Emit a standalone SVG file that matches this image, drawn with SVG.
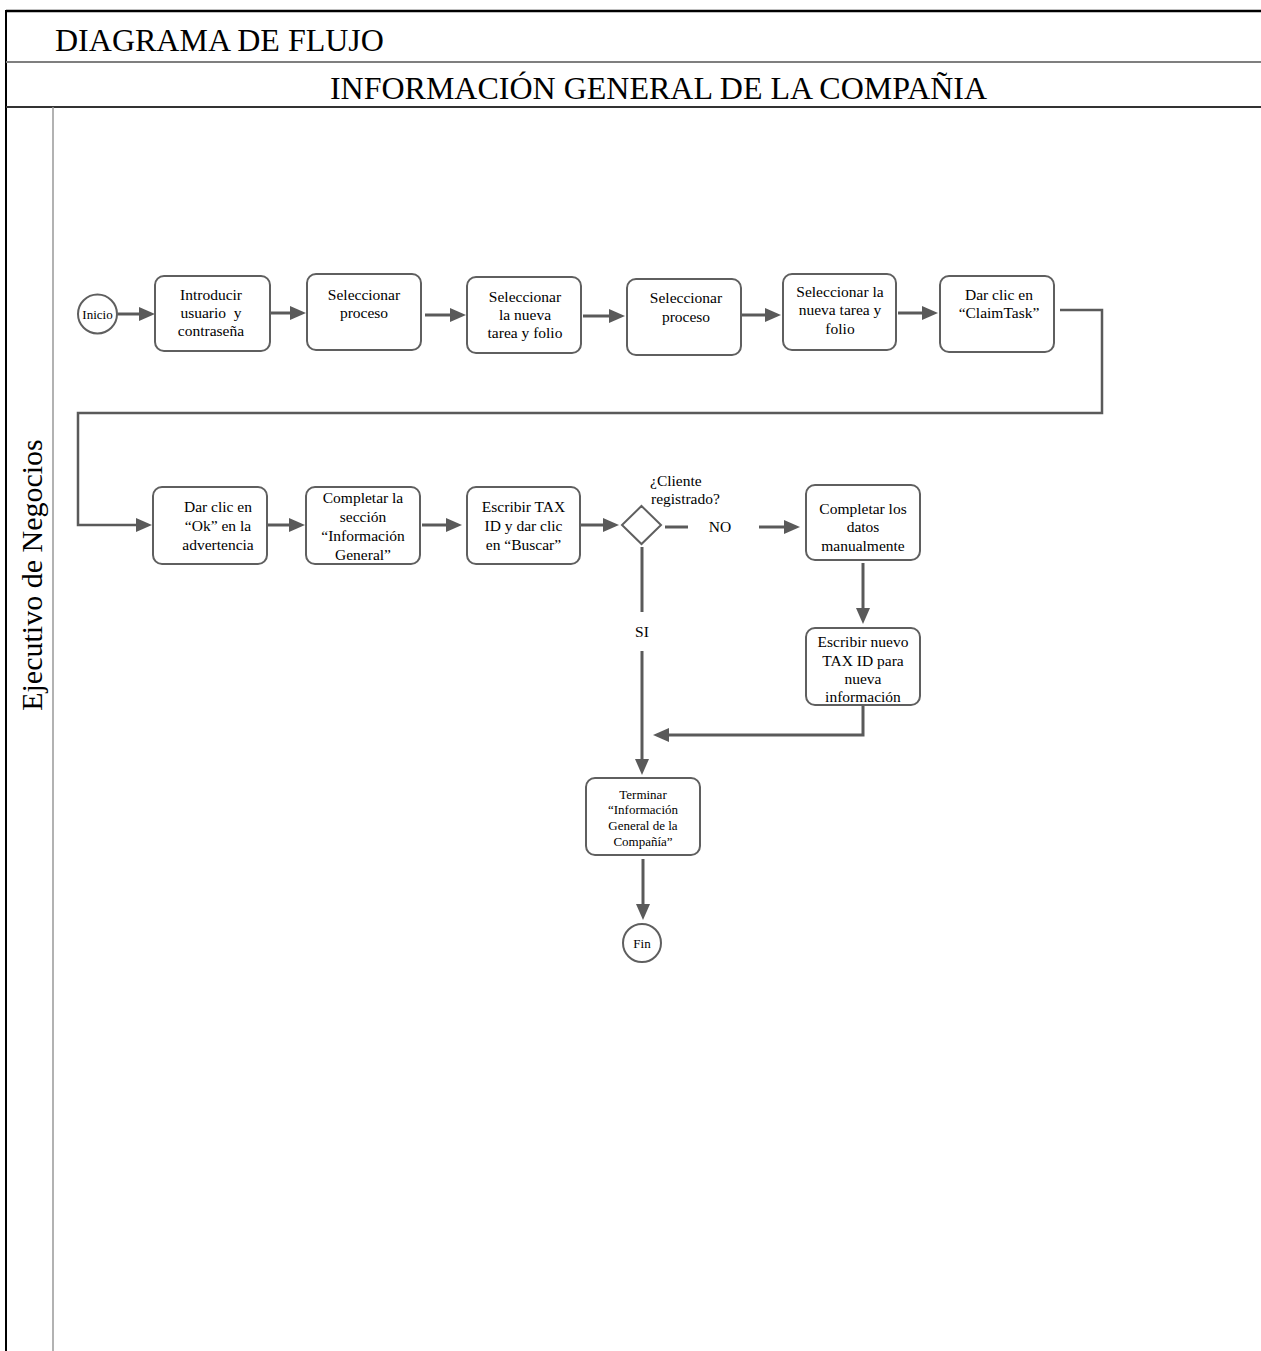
<svg xmlns="http://www.w3.org/2000/svg" width="1261" height="1351" viewBox="0 0 1261 1351">
<style>
  text { font-family: "Liberation Serif", "Times New Roman", serif; fill: #000; }
  .t { font-size: 15.5px; text-anchor: middle; }
  .s { font-size: 13px; text-anchor: middle; }
  .box { fill: #fff; stroke: #5f5f5f; stroke-width: 2; }
  .circ { fill: #fff; stroke: #5f5f5f; stroke-width: 2; }
  .ln { fill: none; stroke: #5a5a5a; stroke-width: 3; }
  .thin { fill: none; stroke: #5a5a5a; stroke-width: 2.5; }
  .arr { marker-end: url(#ah); }
</style>
<defs>
  <marker id="ah" markerUnits="userSpaceOnUse" markerWidth="16" markerHeight="14" refX="4" refY="7" orient="auto">
    <path d="M0,0 L16,7 L0,14 z" fill="#5a5a5a"/>
  </marker>
</defs>
<rect width="1261" height="1351" fill="#fff"/>
<g id="frame">
  <line x1="6" y1="11" x2="1261" y2="11" stroke="#000" stroke-width="2.5"/>
  <line x1="6" y1="10" x2="6" y2="1351" stroke="#000" stroke-width="2"/>
  <line x1="6" y1="62" x2="1261" y2="62" stroke="#7f7f7f" stroke-width="2"/>
  <line x1="6" y1="107" x2="1261" y2="107" stroke="#333" stroke-width="2"/>
  <line x1="53" y1="107" x2="53" y2="1351" stroke="#999" stroke-width="1.5"/>
  <text x="55" y="51" font-size="32">DIAGRAMA DE FLUJO</text>
  <text x="658.5" y="99" font-size="32" text-anchor="middle">INFORMACIÓN GENERAL DE LA COMPAÑIA</text>
  <text transform="translate(42,575) rotate(-90)" font-size="30" text-anchor="middle">Ejecutivo de Negocios</text>
</g>
<g id="connectors">
  <path class="ln arr" d="M117.5,314 H143"/>
  <path class="ln arr" d="M270,313 H294"/>
  <path class="ln arr" d="M425,315 H454"/>
  <path class="ln arr" d="M583,316 H613"/>
  <path class="ln arr" d="M741,315 H769"/>
  <path class="ln arr" d="M898,313 H926"/>
  <path class="thin arr" d="M1060,310 H1102 V413 H78 V525 H140"/>
  <path class="ln arr" d="M268,525 H293"/>
  <path class="ln arr" d="M422,525 H450"/>
  <path class="ln arr" d="M581,525 H607"/>
  <path class="ln" d="M665,527 H688"/>
  <path class="ln arr" d="M759,527 H788"/>
  <path class="ln arr" d="M863,563 V612"/>
  <path class="ln" d="M642,547 V612"/>
  <path class="ln arr" d="M642,651 V763"/>
  <path class="ln arr" d="M863,705 V735 H665"/>
  <path class="ln arr" d="M643,859 V908"/>
  <text class="t" x="720" y="532">NO</text>
  <text class="t" x="642" y="637">SI</text>
</g>
<g id="inicio">
  <circle class="circ" cx="97.5" cy="314" r="19.5"/>
  <text class="s" x="97.5" y="318.5" font-size="13.5">Inicio</text>
</g>
<g id="b1">
  <rect class="box" x="155" y="276" width="115" height="75" rx="9"/>
  <text class="t" x="211" y="300">Introducir</text>
  <text class="t" x="211" y="318" xml:space="preserve">usuario  y</text>
  <text class="t" x="211" y="336">contraseña</text>
</g>
<g id="b2">
  <rect class="box" x="307" y="274" width="114" height="76" rx="9"/>
  <text class="t" x="364" y="300">Seleccionar</text>
  <text class="t" x="364" y="318">proceso</text>
</g>
<g id="b3">
  <rect class="box" x="467" y="277" width="114" height="76" rx="9"/>
  <text class="t" x="525" y="302">Seleccionar</text>
  <text class="t" x="525" y="320">la nueva</text>
  <text class="t" x="525" y="338">tarea y folio</text>
</g>
<g id="b4">
  <rect class="box" x="627" y="279" width="114" height="76" rx="9"/>
  <text class="t" x="686" y="303">Seleccionar</text>
  <text class="t" x="686" y="322">proceso</text>
</g>
<g id="b5">
  <rect class="box" x="783" y="274" width="113" height="76" rx="9"/>
  <text class="t" x="840" y="297">Seleccionar la</text>
  <text class="t" x="840" y="315">nueva tarea y</text>
  <text class="t" x="840" y="334">folio</text>
</g>
<g id="b6">
  <rect class="box" x="940" y="276" width="114" height="76" rx="9"/>
  <text class="t" x="999" y="300">Dar clic en</text>
  <text class="t" x="999" y="318">“ClaimTask”</text>
</g>
<g id="b7">
  <rect class="box" x="153" y="487" width="114" height="77" rx="9"/>
  <text class="t" x="218" y="512">Dar clic en</text>
  <text class="t" x="218" y="531">“Ok” en la</text>
  <text class="t" x="218" y="550">advertencia</text>
</g>
<g id="b8">
  <rect class="box" x="306" y="487" width="114" height="77" rx="9"/>
  <text class="t" x="363" y="503">Completar la</text>
  <text class="t" x="363" y="522">sección</text>
  <text class="t" x="363" y="541">“Información</text>
  <text class="t" x="363" y="560">General”</text>
</g>
<g id="b9">
  <rect class="box" x="467" y="487" width="113" height="77" rx="9"/>
  <text class="t" x="523.5" y="512">Escribir TAX</text>
  <text class="t" x="523.5" y="531">ID y dar clic</text>
  <text class="t" x="523.5" y="550">en “Buscar”</text>
</g>
<g id="decision">
  <polygon points="641.5,506 661,525 641.5,544 622,525" fill="#fff" stroke="#5f5f5f" stroke-width="2"/>
  <text x="650" y="486" font-size="15.5">¿Cliente</text>
  <text x="651" y="504" font-size="15.5">registrado?</text>
</g>
<g id="b10">
  <rect class="box" x="806" y="485" width="114" height="75" rx="9"/>
  <text class="t" x="863" y="514">Completar los</text>
  <text class="t" x="863" y="532">datos</text>
  <text class="t" x="863" y="551">manualmente</text>
</g>
<g id="b11">
  <rect class="box" x="806" y="628" width="114" height="77" rx="9"/>
  <text class="t" x="863" y="647">Escribir nuevo</text>
  <text class="t" x="863" y="666">TAX ID para</text>
  <text class="t" x="863" y="684">nueva</text>
  <text class="t" x="863" y="702">información</text>
</g>
<g id="b12">
  <rect class="box" x="586" y="778" width="114" height="77" rx="9"/>
  <text class="s" x="643" y="799">Terminar</text>
  <text class="s" x="643" y="814">“Información</text>
  <text class="s" x="643" y="830">General de la</text>
  <text class="s" x="643" y="846">Compañía”</text>
</g>
<g id="fin">
  <circle class="circ" cx="642" cy="943" r="19"/>
  <text class="s" x="642" y="947.5">Fin</text>
</g>
</svg>
